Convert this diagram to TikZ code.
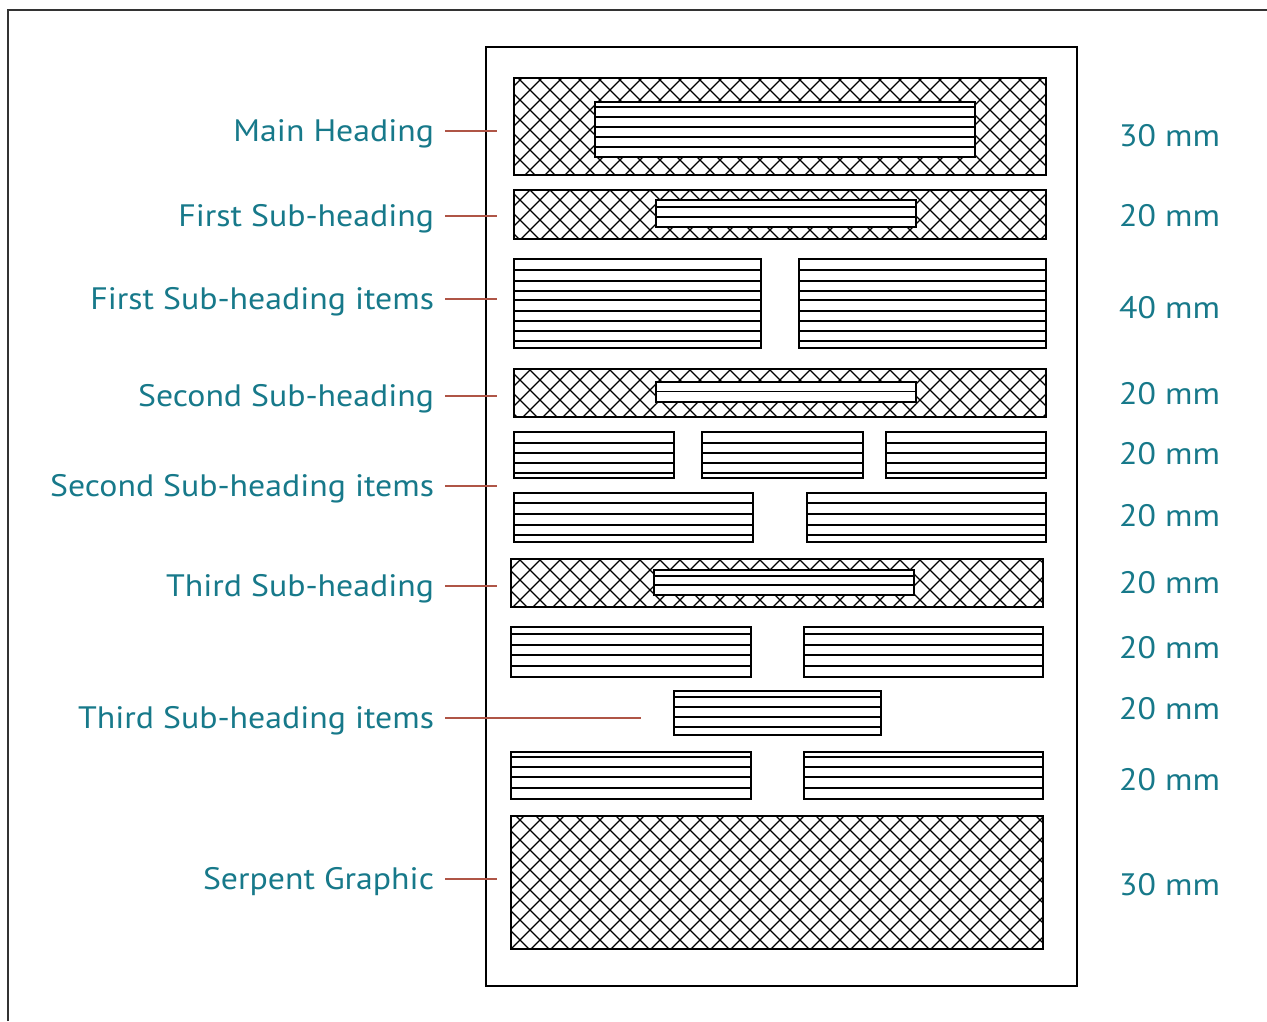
\documentclass[tikz,border=0pt]{standalone}
\usepackage{fontspec}
\setmainfont[FakeStretch=1.09]{PT Sans}
\usetikzlibrary{fit}
\definecolor{labteal}{HTML}{17798A}
\definecolor{connred}{HTML}{AF5546}
\definecolor{framegray}{HTML}{333333}
\tikzset{
  hatch/.style={line width=1.35pt, black},
  box/.style={draw=black, line width=1.9pt, inner sep=0pt, outer sep=0pt},
  innerbox/.style={box, fill=white},
  itemline/.style={line width=1.5pt, black},
  paperbox/.style={draw=black, line width=2.6pt, inner sep=0pt},
  framestyle/.style={draw=framegray, line width=2.4pt},
  leftlab/.style={text=labteal, inner sep=0pt, outer xsep=11pt, text height=20pt, text depth=0pt, anchor=east, font=\fontsize{31}{36}\selectfont},
  rightlab/.style={text=labteal, inner sep=0pt, anchor=base west, font=\fontsize{31}{36}\selectfont},
  conn/.style={draw=connred, line width=2.2pt}
}
\newcommand\hatchrect[4]{%
  \begin{scope}
    \clip (#1,#2) rectangle (#3,#4);
    \pgfmathtruncatemacro\hA{floor((#1-#4)/20)*20}
    \pgfmathtruncatemacro\hB{\hA+20}
    \pgfmathtruncatemacro\hZ{#3-#2+20}
    \foreach \c in {\hA,\hB,...,\hZ} \draw[hatch] (\c+#2,#2) -- (\c+#4,#4);
    \pgfmathtruncatemacro\hA{floor((#1+#2)/20)*20}
    \pgfmathtruncatemacro\hB{\hA+20}
    \pgfmathtruncatemacro\hZ{#3+#4+20}
    \foreach \c in {\hA,\hB,...,\hZ} \draw[hatch] (\c-#2,#2) -- (\c-#4,#4);
  \end{scope}}
% name, x1, y1, x2, y2, offsets, style
\newcommand\linedbox[7]{%
  \node[#7, fit={(#2,#3) (#4,#5)}] (#1) {};
  \foreach \o in {#6}
    \draw[itemline] ([yshift=-\o pt]#1.north west) -- ([yshift=-\o pt]#1.north east);
  \node[draw=black, line width=1.9pt, inner sep=0pt, fit={(#2,#3) (#4,#5)}] {};}
\begin{document}
\begin{tikzpicture}[x=1pt,y=-1pt]
\useasboundingbox (0,0) rectangle (1267,1021);
% outer frame (top and left edges)
\draw[framestyle] (8,1021) -- (8,10) -- (1267,10);
% page
\node[paperbox, fit={(486,47) (1077,986)}] (paper) {};

% Main heading
\hatchrect{514}{78}{1046}{175}
\node[box, fit={(514,78) (1046,175)}] (mh) {};
\linedbox{mhI}{595}{102}{975}{157}{5,15,25,35,45}{innerbox}
% First sub-heading
\hatchrect{514}{190}{1046}{239}
\node[box, fit={(514,190) (1046,239)}] (fs) {};
\linedbox{fsI}{656}{200}{916}{227}{7,17}{innerbox}
% First sub-heading items
\linedbox{fi1}{514}{259}{761}{348}{11,22,32,41,52,62,72,82}{box}
\linedbox{fi2}{799}{259}{1046}{348}{11,22,32,41,52,62,72,82}{box}
% Second sub-heading
\hatchrect{514}{369}{1046}{417}
\node[box, fit={(514,369) (1046,417)}] (ss) {};
\linedbox{ssI}{656}{382}{916}{402}{9.5}{innerbox}
% Second sub-heading items
\linedbox{si1}{514}{432}{674}{478}{11,21,31,41}{box}
\linedbox{si2}{702}{432}{863}{478}{11,21,31,41}{box}
\linedbox{si3}{886}{432}{1046}{478}{11,21,31,41}{box}
\linedbox{si4}{514}{493}{753}{542}{10,21,32,42}{box}
\linedbox{si5}{807}{493}{1046}{542}{10,21,32,42}{box}
% Third sub-heading
\hatchrect{511}{559}{1043}{607}
\node[box, fit={(511,559) (1043,607)}] (ts) {};
\linedbox{tsI}{654}{570}{914}{595}{6,15}{innerbox}
% Third sub-heading items
\linedbox{ti1}{511}{627}{751}{677}{7,18,28,39}{box}
\linedbox{ti2}{804}{627}{1043}{677}{7,18,28,39}{box}
\linedbox{ti3}{674}{691}{881}{735}{6,16,26,36}{box}
\linedbox{ti4}{511}{752}{751}{799}{5,15,25,36}{box}
\linedbox{ti5}{804}{752}{1043}{799}{5,15,25,36}{box}
% Serpent graphic
\hatchrect{511}{816}{1043}{949}
\node[box, fit={(511,816) (1043,949)}] (sg) {};

% Left labels
\node[leftlab] (mhL) at (445,131) {Main Heading};
\node[leftlab] (fsL) at (445,216) {First Sub-heading};
\node[leftlab] (fiL) at (445,299) {First Sub-heading items};
\node[leftlab] (ssL) at (445,396) {Second Sub-heading};
\node[leftlab] (siL) at (445,486) {Second Sub-heading items};
\node[leftlab] (tsL) at (445,586) {Third Sub-heading};
\node[leftlab] (tiL) at (445,718) {Third Sub-heading items};
\node[leftlab] (sgL) at (445,879) {Serpent Graphic};

% connector ends
\coordinate (mhC) at (497,131);
\coordinate (fsC) at (497,216);
\coordinate (fiC) at (497,299);
\coordinate (ssC) at (497,396);
\coordinate (siC) at (497,486);
\coordinate (tsC) at (497,586);
\coordinate (tiC) at (641,718);
\coordinate (sgC) at (497,879);
\draw[conn] (mhL.east) -- (mhC);
\draw[conn] (fsL.east) -- (fsC);
\draw[conn] (fiL.east) -- (fiC);
\draw[conn] (ssL.east) -- (ssC);
\draw[conn] (siL.east) -- (siC);
\draw[conn] (tsL.east) -- (tsC);
\draw[conn] (tiL.east) -- (tiC);
\draw[conn] (sgL.east) -- (sgC);

% Right labels
\node[rightlab] (r1) at (1119,146.5) {30 mm};
\node[rightlab] (r2) at (1119,226.5) {20 mm};
\node[rightlab] (r3) at (1119,318.5) {40 mm};
\node[rightlab] (r4) at (1119,404.5) {20 mm};
\node[rightlab] (r5) at (1119,464.5) {20 mm};
\node[rightlab] (r6) at (1119,526.5) {20 mm};
\node[rightlab] (r7) at (1119,593.5) {20 mm};
\node[rightlab] (r8) at (1119,658.5) {20 mm};
\node[rightlab] (r9) at (1119,719.5) {20 mm};
\node[rightlab] (r10) at (1119,790.5) {20 mm};
\node[rightlab] (r11) at (1119,895.5) {30 mm};
\end{tikzpicture}
\end{document}
